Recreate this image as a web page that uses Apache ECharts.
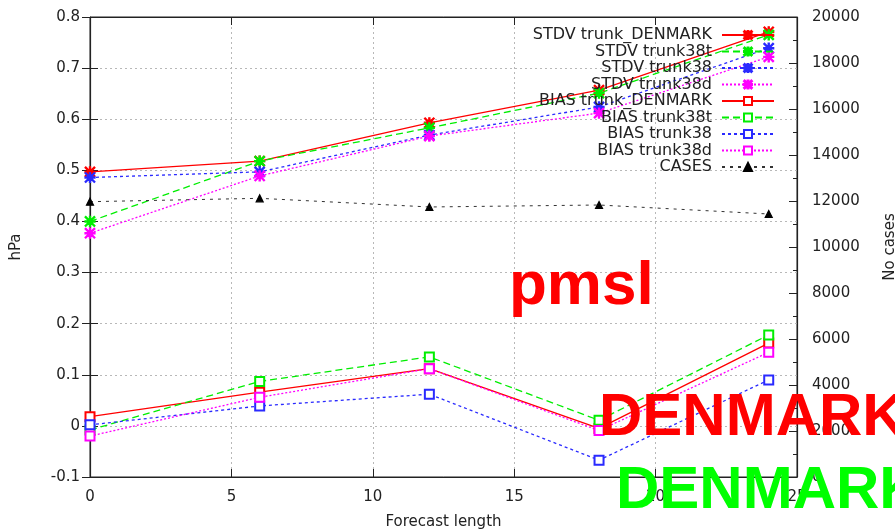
<!DOCTYPE html>
<html>
<head>
<meta charset="utf-8">
<script src="https://cdn.jsdelivr.net/npm/echarts@6/dist/echarts.min.js"></script>
<style>
  html, body { margin: 0; padding: 0; background: #fff; }
  #chart { width: 895px; height: 529px; }
</style>
</head>
<body>
<div id="chart"></div>
<script>
// Forecast lengths (hours)
const leadTimes = [0, 6, 12, 18, 24];

// Standard deviation of mean sea level pressure error (hPa)
const stdvTrunkDenmark = [0.497, 0.518, 0.593, 0.657, 0.771];
const stdvTrunk38t     = [0.400, 0.518, 0.583, 0.651, 0.765];
const stdvTrunk38      = [0.486, 0.497, 0.569, 0.624, 0.739];
const stdvTrunk38d     = [0.377, 0.489, 0.567, 0.612, 0.722];

// Bias of mean sea level pressure (hPa)
const biasTrunkDenmark = [0.018, 0.066, 0.112, -0.005, 0.162];
const biasTrunk38t     = [-0.008, 0.087, 0.135, 0.011, 0.178];
const biasTrunk38      = [0.002, 0.039, 0.062, -0.067, 0.090];
const biasTrunk38d     = [-0.020, 0.056, 0.112, -0.009, 0.144];

// Number of verified cases per lead time
const cases = [11970, 12117, 11740, 11826, 11435];

const xTicks = { min: 0, max: 25, step: 5 };
const hpaTicks = { min: -0.1, max: 0.8, step: 0.1 };
const caseTicks = { min: 0, max: 20000, step: 2000 };

const RED = '#ff0000', GREEN = '#00ee00', BLUE = '#2a2aff', MAGENTA = '#ff00ff', BLACK = '#000000';
const LABEL_FONT = 'DejaVu Sans';

// asterisk marker (plus + cross) as a filled path
const STAR = 'path://M0 4.4H10V5.6H0Z M4.4 0H5.6V10H4.4Z M0 0.8L0.8 0L10 9.2L9.2 10Z M9.2 0L10 0.8L0.8 10L0 9.2Z';

const pair = (ys) => leadTimes.map((x, i) => [x, ys[i]]);

function lineSeries(name, ys, color, dash, symbol, size, yAxisIndex) {
  return {
    name, type: 'line', data: pair(ys), xAxisIndex: 0, yAxisIndex: yAxisIndex || 0,
    symbol, symbolSize: size, showSymbol: true,
    lineStyle: { color, width: 1.3, type: dash },
    itemStyle: { color, borderColor: color, borderWidth: 1.2 },
    emphasis: { disabled: true },
    animation: false, z: 3
  };
}

const series = [
  lineSeries('STDV trunk_DENMARK', stdvTrunkDenmark, RED, 'solid', STAR, 10),
  lineSeries('STDV trunk38t', stdvTrunk38t, GREEN, [7, 4], STAR, 10),
  lineSeries('STDV trunk38', stdvTrunk38, BLUE, [3, 3], STAR, 10),
  lineSeries('STDV trunk38d', stdvTrunk38d, MAGENTA, [2, 2], STAR, 10),
  lineSeries('BIAS trunk_DENMARK', biasTrunkDenmark, RED, 'solid', 'emptyRect', 9),
  lineSeries('BIAS trunk38t', biasTrunk38t, GREEN, [7, 4], 'emptyRect', 9),
  lineSeries('BIAS trunk38', biasTrunk38, BLUE, [3, 3], 'emptyRect', 9),
  lineSeries('BIAS trunk38d', biasTrunk38d, MAGENTA, [2, 2], 'emptyRect', 9),
  lineSeries('CASES', cases, BLACK, [3, 5], 'triangle', 7, 1)
];
series[8].lineStyle.width = 1;
series[8].lineStyle.color = '#333';

const axisColor = '#222';
const gridLine = { show: true, lineStyle: { color: '#b8b8b8', type: [2, 3], width: 1 } };
const plotBox = { left: 90, right: 98, top: 17, bottom: 52, outerBoundsMode: 'none', containLabel: false };
const tickInside = { show: true, inside: true, length: 8, lineStyle: { color: axisColor } };
const labelStyle = { fontFamily: LABEL_FONT, fontSize: 15, color: '#222' };
const borderLine = { show: true, onZero: false, lineStyle: { color: axisColor, width: 1.2 } };
const plain = v => String(Math.round(v * 1000) / 1000);

const option = {
  backgroundColor: '#fff',
  animation: false,
  grid: [
    Object.assign({ show: true, borderColor: axisColor, borderWidth: 1 }, plotBox),
    Object.assign({ show: false }, plotBox)
  ],
  legend: {
    orient: 'vertical', align: 'right', right: 115, top: 22,
    itemWidth: 52, itemHeight: 10, itemGap: 0.5,
    textStyle: { fontFamily: LABEL_FONT, fontSize: 16, color: '#222', padding: [0, 5, 0, 0] },
    selectedMode: false,
    data: series.map(s => s.name)
  },
  xAxis: [
    {
      gridIndex: 0, type: 'value', min: xTicks.min, max: xTicks.max, interval: xTicks.step,
      name: 'Forecast length', nameLocation: 'middle', nameGap: 38,
      nameTextStyle: labelStyle,
      axisLine: borderLine,
      axisTick: tickInside,
      axisLabel: Object.assign({ margin: 13, formatter: plain }, labelStyle),
      splitLine: gridLine
    },
    {
      // mirrored ticks along the top border
      gridIndex: 1, type: 'value', position: 'top', min: xTicks.min, max: xTicks.max, interval: xTicks.step,
      axisLine: borderLine,
      axisTick: tickInside,
      axisLabel: { show: false }, splitLine: { show: false }
    }
  ],
  yAxis: [
    {
      gridIndex: 0, type: 'value', position: 'left', min: hpaTicks.min, max: hpaTicks.max, interval: hpaTicks.step,
      name: 'hPa', nameLocation: 'middle', nameGap: 66, nameRotate: 90,
      nameTextStyle: labelStyle,
      axisLine: borderLine,
      axisTick: tickInside,
      axisLabel: Object.assign({ margin: 10, formatter: v => (Math.round(v * 10) / 10).toString() }, labelStyle),
      splitLine: gridLine
    },
    {
      gridIndex: 0, type: 'value', position: 'right', min: caseTicks.min, max: caseTicks.max, interval: caseTicks.step,
      name: 'No cases', nameLocation: 'middle', nameGap: 86, nameRotate: 90,
      nameTextStyle: labelStyle,
      axisLine: borderLine,
      axisTick: tickInside,
      minorTick: { show: true, splitNumber: 2, length: 4, lineStyle: { color: axisColor } },
      axisLabel: Object.assign({ margin: 15, formatter: plain }, labelStyle),
      splitLine: { show: false }
    },
    {
      // mirrored hPa ticks along the right border
      gridIndex: 1, type: 'value', position: 'right', min: hpaTicks.min, max: hpaTicks.max, interval: hpaTicks.step,
      axisLine: { show: false },
      axisTick: tickInside,
      axisLabel: { show: false }, splitLine: { show: false }
    }
  ],
  series,
  graphic: [
    { type: 'text', z: 100, style: { text: 'pmsl', x: 509, y: 318, font: 'bold 62px "Liberation Sans", Arial, sans-serif', fill: '#ff0000', textVerticalAlign: 'bottom' } },
    { type: 'text', z: 100, style: { text: 'DENMARK', x: 599, y: 448, font: 'bold 60px "Liberation Sans", Arial, sans-serif', fill: '#ff0000', textVerticalAlign: 'bottom' } },
    { type: 'text', z: 100, style: { text: 'DENMARK', x: 616, y: 521, font: 'bold 60px "Liberation Sans", Arial, sans-serif', fill: '#00ff00', textVerticalAlign: 'bottom' } }
  ]
};

const chart = echarts.init(document.getElementById('chart'), null, { renderer: 'canvas' });
chart.setOption(option);
</script>
</body>
</html>
